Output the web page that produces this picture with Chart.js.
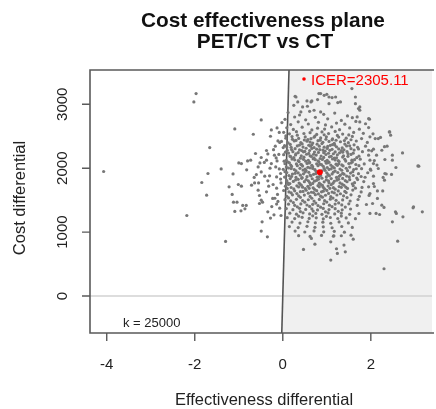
<!DOCTYPE html>
<html>
<head>
<meta charset="utf-8">
<script src="https://cdn.jsdelivr.net/npm/chart.js@4/dist/chart.umd.min.js"></script>
<style>
html,body{margin:0;padding:0;background:#fff;}
#wrap{width:436px;height:409px;position:relative;}
</style>
</head>
<body>
<div id="wrap"><canvas id="c" width="436" height="409"></canvas></div>
<script>
// ---- data ----
const titleLines = ["Cost effectiveness plane", "PET/CT vs CT"];
const xTitle = "Effectiveness differential";
const yTitle = "Cost differential";
const xTicks = [-4, -2, 0, 2];
const yTicks = [0, 1000, 2000, 3000];
const xRange = [-4.38, 3.39];
const yRange = [-578, 3536];
const wtpK = 25000;
const wtpLabel = "k = 25000";
const icerPoint = [0.84, 1936.4];
const icerLabel = "ICER=2305.11";

// simulated (effectiveness, cost) differentials
const simulations = [
// sparse points, left
[-1.97,3167],[-2.02,3036],[-4.07,1948],[-2.18,1260],
[-0.49,2755],[-1.09,2614],[-0.67,2531],[-0.26,2598],[-0.13,2630],[-0.28,2500],[-0.11,2427],[-0.07,2402],
[-1.66,2323],[-0.17,2344],[0.01,2323],[-0.62,2230],[-0.37,2277],[-0.34,2223],[-0.49,2167],[-0.19,2203],
[-0.73,2125],[-0.80,2114],[-1.00,2083],[-0.94,2073],[-0.52,2083],[-0.37,2125],[-0.26,2073],[-0.13,2114],
[-1.40,1989],[-1.70,1917],[-1.13,1911],[-0.82,1974],[-0.56,2020],[-0.49,1942],[-0.29,2000],[-0.08,1989],
[-0.65,1855],[-0.41,1875],[-0.14,1864],[-0.05,1917],
[-1.84,1776],[-1.73,1578],[-1.22,1708],[-1.01,1745],[-0.71,1734],[-0.64,1770],[-0.55,1770],[-0.34,1802],
[-0.32,1719],[-0.14,1688],[-0.04,1770],[-0.37,1630],[-1.15,1589],[-1.12,1469],[-1.04,1469],[-0.91,1417],
[-0.83,1417],[-0.86,1364],[-0.95,1333],[-1.09,1323],[-0.53,1573],[-0.49,1500],[-0.53,1448],[-0.46,1469],
[-0.23,1527],[-0.11,1480],[-0.14,1438],[-0.07,1375],[-0.20,1270],[-0.28,1219],[-0.47,1161],[-0.49,1016],
[-0.35,927],[-1.30,855],[-0.94,1719],[-0.56,1656],[-0.34,1317],
[-0.21,2290],[-0.09,2215],[-0.16,2020],[-0.05,1830],[-0.22,1745],[-0.12,1590],[-0.18,1530],[-0.04,1260],
[-0.08,2560],[-0.15,2160],[-0.30,1880],[-0.42,2090],[-0.60,1900],[-0.25,1400],
// low right
[0.47,730],[0.65,901],[0.73,812],[1.09,562],[1.22,740],[1.24,667],[1.39,797],[1.42,692],[1.55,953],
[1.60,890],[1.33,943],[1.16,943],[1.09,848],[2.30,427],[2.61,859],[2.49,1161],
// right outliers
[2.73,1239],[2.96,1380],[3.17,1317],[2.56,1317],[2.58,1292],[2.30,1386],[2.25,1422],[2.20,1276],
[2.12,1292],[1.98,1292],[2.04,1448],[2.15,1527],[2.27,1645],[2.15,1645],[1.98,1603],[1.95,1708],
[2.06,1760],[2.31,1812],
[1.97,2766],[1.95,2636],[2.43,2567],[2.45,2516],[1.98,2490],[2.10,2464],[2.17,2464],[2.37,2344],
[2.06,2297],[2.25,2281],[2.72,2239],[1.95,2281],[2.13,2203],[2.49,2203],[2.32,2136],[2.49,2125],
[1.98,2125],[2.06,2073],[2.57,2011],[3.07,2036],[2.17,1995],[2.00,1969],[2.32,1917],[2.47,1902],
[2.28,1855],[2.06,1875],[3.09,2031],[2.97,1395],[2.42,2567],
// top
[1.75,2958],[1.75,2906],[1.57,3245],[1.95,2776],[1.20,3114],[1.31,3036],[1.05,3114],[1.12,3104],
[0.82,3167],[0.94,3140],[0.30,3114],[0.34,3036],[0.66,3052],[0.56,2969],
[0.86,3167],[1.00,3156],[1.25,3026],[0.79,3073],[0.55,3052],[0.64,3036],[1.05,3010],[0.28,3125],
[0.25,2984],[0.45,2958],[0.41,2880],[0.71,2906],[0.86,2880],[1.65,3114],[1.65,3010],[1.72,2933],
[1.69,2802],[1.75,2723],
// core
[0.12,2871],[0.38,2832],[0.61,2889],[0.93,2843],[1.18,2862],[1.47,2818],
[0.05,2764],[0.27,2801],[0.52,2757],[0.74,2795],[1.02,2772],[1.33,2748],[1.58,2790],
[-0.02,2713],[0.18,2682],[0.35,2725],[0.58,2691],[0.81,2719],[0.97,2677],[1.22,2706],[1.41,2688],[1.66,2731],[1.88,2695],
[0.09,2633],[0.24,2607],[0.44,2641],[0.66,2598],[0.79,2626],[0.95,2612],[1.11,2645],[1.29,2603],[1.52,2630],[1.74,2611],
[0.02,2561],[0.15,2538],[0.31,2572],[0.48,2543],[0.62,2556],[0.77,2529],[0.89,2567],[1.04,2541],[1.19,2575],[1.36,2534],[1.61,2559],[1.83,2546],[2.05,2537],
[0.07,2470],[0.21,2495],[0.36,2466],[0.51,2489],[0.64,2461],[0.73,2502],[0.86,2474],[0.99,2491],[1.13,2458],[1.27,2486],[1.44,2469],[1.58,2497],[1.79,2463],[2.22,2481],
[-0.03,2418],[0.12,2396],[0.26,2427],[0.41,2401],[0.55,2422],[0.68,2393],[0.80,2431],[0.91,2405],[1.05,2419],[1.17,2388],[1.31,2414],[1.49,2399],[1.67,2425],[1.92,2403],
[0.04,2352],[0.19,2326],[0.33,2348],[0.46,2331],[0.59,2359],[0.71,2322],[0.83,2345],[0.94,2329],[1.08,2357],[1.22,2335],[1.35,2319],[1.52,2350],[1.70,2328],[1.88,2344],[2.31,2337],
[0.10,2281],[0.23,2259],[0.38,2286],[0.50,2263],[0.61,2277],[0.72,2252],[0.84,2289],[0.96,2266],[1.07,2280],[1.19,2255],[1.33,2274],[1.46,2261],[1.62,2284],[1.81,2258],[2.02,2271],
[0.02,2212],[0.16,2189],[0.29,2207],[0.42,2193],[0.54,2218],[0.65,2184],[0.76,2205],[0.87,2191],[0.98,2214],[1.10,2186],[1.24,2209],[1.38,2195],[1.55,2216],[1.73,2188],[1.95,2203],
[0.08,2121],[0.21,2143],[0.35,2118],[0.47,2139],[0.58,2124],[0.69,2147],[0.80,2115],[0.90,2136],[1.01,2122],[1.13,2144],[1.26,2117],[1.41,2138],[1.57,2126],[1.76,2141],[2.08,2119],
[0.05,2071],[0.18,2049],[0.31,2066],[0.43,2052],[0.55,2074],[0.66,2046],[0.77,2069],[0.88,2055],[0.99,2077],[1.09,2048],[1.21,2063],[1.34,2051],[1.50,2072],[1.66,2058],[1.85,2066],[2.14,2049],
[0.01,1982],[0.13,2003],[0.26,1979],[0.39,1998],[0.51,1985],[0.62,2006],[0.73,1977],[0.94,1995],[1.05,1981],[1.17,2004],[1.30,1987],[1.44,1999],[1.61,1978],[1.79,1993],[1.99,1984],
[0.09,1931],[0.22,1908],[0.35,1926],[0.47,1912],[0.59,1935],[0.70,1904],[1.00,1928],[1.12,1911],[1.25,1933],[1.39,1906],[1.54,1924],[1.72,1914],[1.93,1929],[2.35,1909],
[0.04,1861],[0.17,1838],[0.30,1856],[0.43,1842],[0.55,1867],[0.67,1835],[0.78,1859],[0.89,1844],[0.99,1863],[1.10,1837],[1.22,1855],[1.36,1840],[1.51,1864],[1.68,1846],[1.87,1858],
[0.11,1771],[0.24,1793],[0.37,1768],[0.49,1789],[0.61,1775],[0.72,1797],[0.83,1766],[0.94,1786],[1.05,1772],[1.17,1794],[1.30,1769],[1.46,1788],[1.63,1774],[1.84,1791],
[0.06,1719],[0.19,1698],[0.32,1724],[0.45,1703],[0.57,1716],[0.69,1694],[0.80,1727],[0.92,1701],[1.03,1721],[1.15,1696],[1.28,1713],[1.43,1705],[1.60,1726],[1.80,1699],[2.08,1714],
[0.02,1651],[0.14,1628],[0.27,1646],[0.40,1633],[0.53,1655],[0.65,1624],[0.77,1649],[0.88,1631],[1.00,1653],[1.12,1627],[1.26,1644],[1.41,1636],[1.59,1657],[1.78,1629],
[0.09,1561],[0.22,1583],[0.36,1566],[0.49,1579],[0.62,1558],[0.74,1586],[0.86,1563],[0.97,1577],[1.09,1555],[1.23,1581],[1.38,1568],[1.55,1584],[1.74,1560],[1.96,1574],
[0.05,1508],[0.18,1489],[0.31,1513],[0.45,1494],[0.58,1506],[0.71,1486],[0.83,1511],[0.95,1492],[1.08,1515],[1.21,1497],[1.36,1504],[1.53,1487],[1.71,1510],
[0.13,1437],[0.27,1419],[0.41,1441],[0.55,1424],[0.68,1435],[0.80,1416],[0.93,1444],[1.06,1421],[1.19,1438],[1.34,1426],[1.50,1443],[1.69,1418],[1.90,1432],
[0.08,1368],[0.23,1351],[0.38,1372],[0.52,1355],[0.66,1364],[0.79,1347],[0.92,1370],[1.05,1353],[1.19,1366],[1.35,1349],[1.54,1362],
[0.16,1297],[0.31,1281],[0.46,1302],[0.61,1285],[0.75,1293],[0.89,1278],[1.03,1300],[1.18,1284],[1.33,1296],[1.52,1279],[1.73,1291],
[0.10,1226],[0.27,1212],[0.44,1231],[0.60,1215],[0.76,1224],[0.92,1208],[1.08,1229],[1.25,1213],[1.44,1222],[1.65,1210],
[0.21,1157],[0.39,1141],[0.57,1162],[0.74,1146],[0.91,1155],[1.09,1139],[1.28,1160],[1.49,1144],
[0.15,1086],[0.35,1071],[0.55,1090],[0.73,1075],[0.92,1083],[1.12,1068],[1.34,1088],[1.58,1073],
[0.28,1016],[0.50,1002],[0.71,1019],[0.93,1005],[1.17,1013],[1.40,999],
[0.36,945],[0.62,932],[0.88,948],[1.15,936],
// denser core
[0.30,2435],[0.57,2447],[0.85,2438],[1.12,2444],[1.40,2432],
[0.17,2372],[0.44,2380],[0.66,2367],[0.89,2385],[1.13,2370],[1.41,2378],
[0.28,2305],[0.53,2312],[0.77,2298],[1.01,2309],[1.27,2301],[1.55,2306],
[0.13,2236],[0.35,2242],[0.59,2231],[0.81,2247],[1.04,2234],[1.29,2240],[1.48,2229],
[0.25,2166],[0.48,2172],[0.71,2161],[0.93,2169],[1.17,2158],[1.36,2174],
[0.12,2096],[0.37,2103],[0.61,2091],[0.82,2099],[1.05,2094],[1.28,2105],[1.58,2098],
[0.20,2027],[0.45,2033],[0.68,2021],[0.92,2030],[1.13,2024],[1.37,2036],
[0.30,1958],[0.53,1963],[0.76,1951],[0.96,1967],[1.19,1955],[1.47,1961],
[0.14,1884],[0.40,1891],[0.64,1879],[0.86,1887],[1.06,1881],[1.31,1893],[1.60,1886],
[0.29,1815],[0.53,1822],[0.77,1810],[0.99,1818],[1.23,1812],[1.52,1820],
[0.13,1745],[0.39,1752],[0.63,1740],[0.86,1748],[1.10,1742],[1.35,1750],
[0.25,1675],[0.51,1681],[0.72,1670],[0.95,1678],[1.19,1672],[1.47,1683],
[0.32,1603],[0.58,1609],[0.81,1598],[1.04,1606],[1.31,1600],
// densest centre, irregular
[0.07,2505],[0.33,2517],[0.71,2484],[0.94,2523],[1.24,2512],[1.50,2521],
[0.22,2452],[0.49,2441],[0.62,2409],[0.98,2453],[1.21,2437],[1.55,2445],
[0.09,2333],[0.38,2361],[0.63,2344],[0.78,2376],[1.02,2340],[1.18,2362],[1.45,2349],[1.62,2366],
[0.20,2292],[0.43,2275],[0.66,2309],[0.91,2283],[1.12,2295],[1.39,2287],[1.72,2300],
[0.06,2250],[0.30,2224],[0.47,2256],[0.70,2218],[0.93,2243],[1.15,2226],[1.36,2251],[1.60,2235],
[0.18,2180],[0.40,2157],[0.62,2193],[0.85,2152],[1.06,2178],[1.22,2163],[1.48,2185],[1.68,2164],
[0.03,2110],[0.27,2131],[0.52,2110],[0.74,2134],[0.97,2108],[1.19,2129],[1.43,2112],[1.63,2133],
[0.15,2084],[0.41,2060],[0.60,2082],[0.84,2063],[1.03,2086],[1.27,2068],[1.55,2081],
[0.08,2019],[0.33,2040],[0.57,2014],[0.80,2039],[1.01,2011],[1.24,2045],[1.52,2017],[1.73,2040],
[0.19,1994],[0.46,1970],[0.68,1995],[0.89,1960],[1.10,1990],[1.34,1968],[1.67,1991],
[0.05,1945],[0.28,1920],[0.51,1942],[0.75,1916],[1.15,1940],[1.36,1919],[1.59,1944],
[0.20,1870],[0.44,1854],[0.62,1893],[0.83,1869],[1.03,1898],[1.28,1873],[1.45,1876],[1.78,1870],
[0.09,1805],[0.35,1826],[0.58,1802],[0.81,1829],[1.04,1801],[1.27,1827],[1.42,1806],[1.70,1822],
[0.16,1760],[0.42,1735],[0.68,1762],[0.90,1731],[1.14,1763],[1.39,1733],[1.58,1755],
[0.10,1684],[0.36,1706],[0.60,1685],[0.83,1709],[1.07,1685],[1.33,1700],[1.65,1688],
[0.19,1614],[0.46,1636],[0.70,1618],[0.92,1640],[1.17,1614],[1.44,1619],
[0.13,1535],[0.40,1545],[0.66,1530],[0.90,1547],[1.14,1533],[1.46,1540],
[0.24,1462],[0.50,1468],[0.75,1455],[1.00,1470],[1.27,1457],
[0.33,1395],[0.61,1402],[0.86,1390],[1.12,1398],[1.42,1392],
[0.40,1322],[0.69,1330],[0.97,1318],[1.26,1326],
[0.36,1249],[0.68,1255],[0.99,1247],[1.33,1251]
];

// ---- drawing ----
const FONT = '"Liberation Sans", Arial, Helvetica, sans-serif';

const cePlane = {
  id: 'cePlane',
  beforeDatasetsDraw(chart) {
    const {ctx, chartArea: a, scales: {x, y}} = chart;
    ctx.save();
    ctx.beginPath();
    ctx.rect(a.left, a.top, a.right - a.left, a.bottom - a.top);
    ctx.clip();
    // sustainability area (cost < k * effect)
    ctx.beginPath();
    ctx.moveTo(x.getPixelForValue(yRange[0] / wtpK), y.getPixelForValue(yRange[0]));
    ctx.lineTo(x.getPixelForValue(yRange[1] / wtpK), y.getPixelForValue(yRange[1]));
    ctx.lineTo(x.getPixelForValue(xRange[1]), y.getPixelForValue(yRange[1]));
    ctx.lineTo(x.getPixelForValue(xRange[1]), y.getPixelForValue(yRange[0]));
    ctx.closePath();
    ctx.fillStyle = '#f0f0f0';
    ctx.fill();
    // zero cost line
    ctx.strokeStyle = '#d2d2d2';
    ctx.lineWidth = 1.5;
    ctx.beginPath();
    const y0 = y.getPixelForValue(0);
    ctx.moveTo(a.left, y0); ctx.lineTo(a.right, y0);
    ctx.stroke();
    // WTP line
    ctx.strokeStyle = '#555';
    ctx.lineWidth = 1.6;
    ctx.beginPath();
    ctx.moveTo(x.getPixelForValue(yRange[0] / wtpK), y.getPixelForValue(yRange[0]));
    ctx.lineTo(x.getPixelForValue(yRange[1] / wtpK), y.getPixelForValue(yRange[1]));
    ctx.stroke();
    ctx.restore();
  },
  afterDatasetsDraw(chart) {
    const {ctx, chartArea: a, scales: {x, y}} = chart;
    ctx.save();
    // box
    ctx.strokeStyle = '#5a5a5a';
    ctx.lineWidth = 1.6;
    ctx.beginPath();
    ctx.moveTo(a.right + 2, a.top); ctx.lineTo(a.left, a.top);
    ctx.lineTo(a.left, a.bottom); ctx.lineTo(a.right + 2, a.bottom);
    ctx.stroke();
    // ticks
    ctx.lineWidth = 1.4;
    ctx.beginPath();
    xTicks.forEach(v => { const px = x.getPixelForValue(v); ctx.moveTo(px, a.bottom); ctx.lineTo(px, a.bottom + 8); });
    yTicks.forEach(v => { const py = y.getPixelForValue(v); ctx.moveTo(a.left, py); ctx.lineTo(a.left - 8, py); });
    ctx.stroke();
    // tick labels
    ctx.fillStyle = '#222';
    ctx.font = '15px ' + FONT;
    ctx.textAlign = 'center';
    ctx.textBaseline = 'alphabetic';
    xTicks.forEach(v => ctx.fillText(String(v), x.getPixelForValue(v), 369));
    yTicks.forEach(v => {
      ctx.save();
      ctx.translate(67, y.getPixelForValue(v));
      ctx.rotate(-Math.PI / 2);
      ctx.fillText(String(v), 0, 0);
      ctx.restore();
    });
    // axis titles
    ctx.font = '16.5px ' + FONT;
    ctx.fillText(xTitle, 264, 405);
    ctx.save();
    ctx.translate(25, 198);
    ctx.rotate(-Math.PI / 2);
    ctx.fillText(yTitle, 0, 0);
    ctx.restore();
    // title
    ctx.font = 'bold 20.8px ' + FONT;
    ctx.fillStyle = '#111';
    ctx.fillText(titleLines[0], 263, 27);
    ctx.fillText(titleLines[1], 265, 48);
    // k label
    ctx.font = '13px ' + FONT;
    ctx.fillStyle = '#222';
    ctx.textAlign = 'left';
    ctx.fillText(wtpLabel, 123, 327);
    // legend
    ctx.fillStyle = '#ff0000';
    ctx.beginPath();
    ctx.arc(304, 79, 1.8, 0, Math.PI * 2);
    ctx.fill();
    ctx.font = '15px ' + FONT;
    ctx.fillText(icerLabel, 311, 84.5);
    ctx.restore();
  }
};

new Chart(document.getElementById('c'), {
  type: 'scatter',
  data: {
    datasets: [
      {
        label: 'ICER',
        data: [{x: icerPoint[0], y: icerPoint[1]}],
        pointRadius: 3,
        pointBackgroundColor: '#ff0000',
        pointBorderWidth: 0,
        order: 0
      },
      {
        label: 'Simulations',
        data: simulations.map(p => ({x: p[0], y: p[1]})),
        pointRadius: 1.6,
        pointBackgroundColor: '#777777',
        pointBorderWidth: 0,
        order: 1
      }
    ]
  },
  options: {
    responsive: false,
    animation: false,
    devicePixelRatio: 1,
    layout: {padding: {left: 90, top: 70, right: 0, bottom: 76}},
    plugins: {legend: {display: false}, tooltip: {enabled: false}, title: {display: false}},
    scales: {
      x: {type: 'linear', min: xRange[0], max: xRange[1], display: false},
      y: {type: 'linear', min: yRange[0], max: yRange[1], display: false}
    }
  },
  plugins: [cePlane]
});
</script>
</body>
</html>
